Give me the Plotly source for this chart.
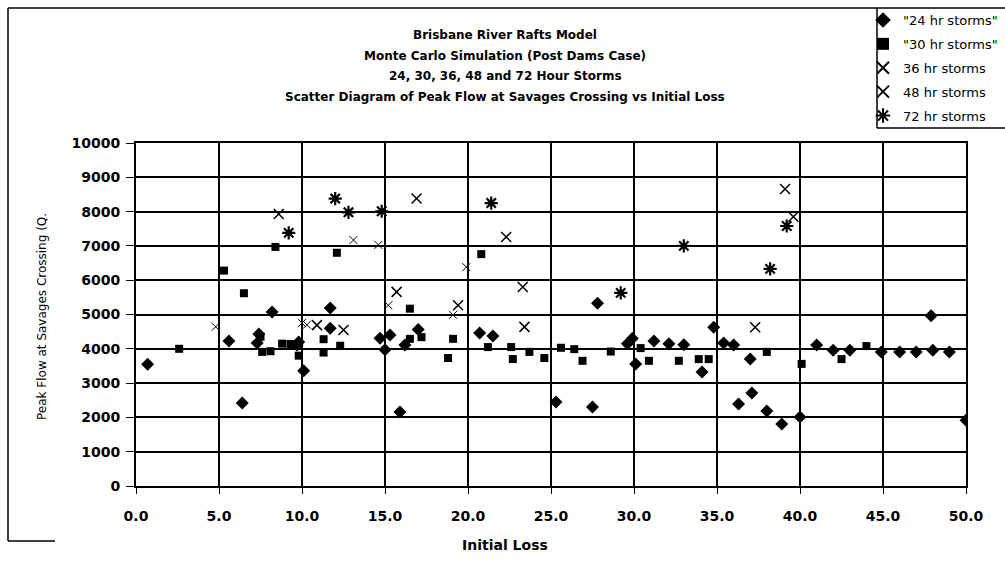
import plotly.graph_objects as go

# Initial loss (mm) and peak flow at Savages Crossing for each storm duration
x_24 = [0.7, 5.6, 6.4, 7.3, 7.4, 8.2, 9.7, 9.8, 10.1, 11.7, 11.7, 14.7, 15.0, 15.3,
        15.9, 16.2, 17.0, 20.7, 21.5, 25.3, 27.5, 27.8, 29.6, 29.9, 30.1, 31.2,
        32.1, 33.0, 34.1, 34.8, 35.4, 36.0, 36.3, 37.0, 37.1, 38.0, 38.9, 40.0,
        41.0, 42.0, 43.0, 44.9, 46.0, 47.0, 48.0, 47.9, 49.0, 50.0]
y_24 = [3550, 4230, 2420, 4170, 4430, 5070, 4110, 4200, 3360, 5190, 4600, 4310, 3970, 4400,
        2160, 4110, 4560, 4460, 4370, 2450, 2300, 5330, 4150, 4300, 3560, 4230,
        4150, 4120, 3320, 4630, 4170, 4110, 2390, 3700, 2710, 2190, 1810, 2010,
        4110, 3960, 3960, 3910, 3910, 3910, 3960, 4960, 3910, 1920]

x_30 = [2.6, 5.3, 6.5, 7.5, 7.6, 8.1, 8.4, 8.8, 9.3, 9.8, 11.3, 11.3, 12.1, 12.3,
        16.5, 16.5, 17.2, 18.8, 19.1, 20.8, 21.2, 22.6, 22.7, 23.7, 24.6, 25.6,
        26.4, 26.9, 28.6, 30.4, 30.9, 32.7, 33.9, 34.5, 38.0, 40.1, 42.5, 44.0]
y_30 = [4000, 6280, 5620, 4350, 3910, 3930, 6970, 4150, 4140, 3800, 4280, 3890, 6800, 4090,
        5170, 4290, 4340, 3730, 4290, 6760, 4050, 4050, 3700, 3910, 3730, 4030,
        3990, 3650, 3920, 4020, 3650, 3650, 3700, 3700, 3910, 3560, 3700, 4080]

x_36 = [4.8, 10.0, 10.3, 13.1, 14.6, 15.2, 19.1, 19.9]
y_36 = [4640, 4750, 4700, 7170, 7030, 5270, 4990, 6380]

x_48 = [8.6, 10.9, 12.5, 15.7, 16.9, 19.4, 22.3, 23.3, 23.4, 37.3, 39.1, 39.6]
y_48 = [7930, 4690, 4550, 5660, 8380, 5270, 7260, 5800, 4640, 4630, 8660, 7850]

x_72 = [9.2, 12.0, 12.8, 14.8, 21.4, 29.2, 33.0, 38.2, 39.2]
y_72 = [7380, 8380, 7980, 8010, 8250, 5630, 7000, 6330, 7580]

series_names = ['"24 hr storms"', '"30 hr storms"', "36 hr storms", "48 hr storms", "72 hr storms"]

title_lines = [
    "Brisbane River Rafts Model",
    "Monte Carlo Simulation (Post Dams Case)",
    "24, 30, 36, 48 and 72 Hour Storms",
    "Scatter Diagram of Peak Flow at Savages Crossing vs Initial Loss",
]

x_ticks = [0, 5, 10, 15, 20, 25, 30, 35, 40, 45, 50]
x_tick_text = ["0.0", "5.0", "10.0", "15.0", "20.0", "25.0", "30.0", "35.0", "40.0", "45.0", "50.0"]
y_ticks = [0, 1000, 2000, 3000, 4000, 5000, 6000, 7000, 8000, 9000, 10000]
y_tick_text = ["0", "1000", "2000", "3000", "4000", "5000", "6000", "7000", "8000", "9000", "10000"]

W, H = 1005, 567
L, R, T, B = 136, 966, 143, 486   # plot area edges in pixels


def px(p):
    return (p - L) / (R - L)


def py(p):
    return (B - p) / (B - T)


FONT = "DejaVu Sans"

marker_styles = [
    dict(symbol="diamond", size=10, color="black", line=dict(width=0)),
    dict(symbol="square", size=8, color="black", line=dict(width=0)),
    dict(symbol="x-thin-open", size=8, color="black", line=dict(width=1, color="black")),
    dict(symbol="x-thin-open", size=10, color="black", line=dict(width=1.5, color="black")),
    dict(symbol="asterisk-open", size=11, color="black", line=dict(width=2.2, color="black")),
]

fig = go.Figure()
for i, (xs, ys) in enumerate([(x_24, y_24), (x_30, y_30), (x_36, y_36), (x_48, y_48), (x_72, y_72)]):
    fig.add_trace(go.Scatter(
        x=xs, y=ys, mode="markers", name=series_names[i],
        legendgroup=f"g{i}", marker=marker_styles[i],
    ))

axis_common = dict(
    showline=True, linecolor="black", linewidth=2, mirror=True,
    showgrid=True, gridcolor="black", gridwidth=1.5,
    zeroline=False, ticks="outside", tickcolor="black",
    tickfont=dict(family=FONT, size=14, color="black", weight="bold"),
)

fig.update_xaxes(range=[0, 50], tickvals=x_ticks, ticktext=x_tick_text,
                 ticklen=6, ticklabelstandoff=10, **axis_common)
fig.update_yaxes(range=[0, 10000], tickvals=y_ticks, ticktext=y_tick_text, ticklen=8,
                 ticklabelstandoff=3, **axis_common)

annotations = []
for k, line in enumerate(title_lines):
    annotations.append(dict(
        text=line, x=px(505), y=py(35 + k * 20.5), xref="paper", yref="paper",
        xanchor="center", yanchor="middle", showarrow=False,
        font=dict(family=FONT, size=12, color="black", weight="bold"),
    ))
annotations.append(dict(
    text="Initial Loss", x=px(505), y=py(545), xref="paper", yref="paper",
    xanchor="center", yanchor="middle", showarrow=False,
    font=dict(family=FONT, size=14, color="black", weight="bold"),
))
annotations.append(dict(
    text="Peak Flow at Savages Crossing (Q.", x=px(42), y=py(317), xref="paper", yref="paper",
    xanchor="center", yanchor="middle", showarrow=False, textangle=-90,
    font=dict(family=FONT, size=12, color="black"),
))

line_style = dict(color="black", width=1.5)
shapes = [
    # outer chart frame
    dict(type="line", xref="paper", yref="paper", x0=px(8), y0=py(8), x1=px(1010), y1=py(8), line=line_style),
    dict(type="line", xref="paper", yref="paper", x0=px(8), y0=py(8), x1=px(8), y1=py(541), line=line_style),
    dict(type="line", xref="paper", yref="paper", x0=px(8), y0=py(541), x1=px(55), y1=py(541), line=line_style),
    # legend box
    dict(type="line", xref="paper", yref="paper", x0=px(877), y0=py(8), x1=px(877), y1=py(128), line=line_style),
    dict(type="line", xref="paper", yref="paper", x0=px(877), y0=py(128), x1=px(1010), y1=py(128), line=line_style),
]

fig.update_layout(
    width=W, height=H, autosize=False,
    margin=dict(l=L, r=W - R, t=T, b=H - B, pad=0, autoexpand=False),
    paper_bgcolor="white", plot_bgcolor="white",
    showlegend=True,
    legend=dict(
        x=px(863), y=py(5), xanchor="left", yanchor="top",
        bgcolor="rgba(0,0,0,0)", borderwidth=0,
        font=dict(family=FONT, size=13, color="black"),
        tracegroupgap=4, itemsizing="constant",
    ),
    annotations=annotations,
    shapes=shapes,
)

fig.write_html("out.html")
